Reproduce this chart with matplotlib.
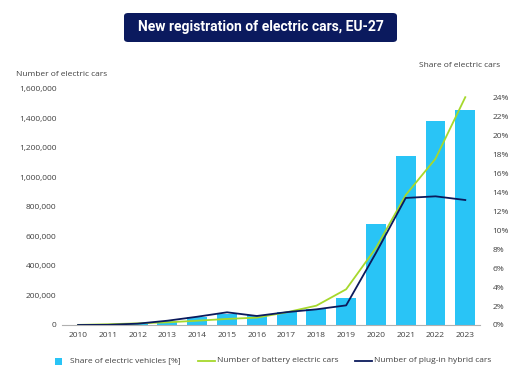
import matplotlib
matplotlib.use("Agg")
import matplotlib.pyplot as plt
from matplotlib.lines import Line2D
from matplotlib.patches import FancyBboxPatch, Rectangle
from matplotlib.ticker import FuncFormatter

plt.rcParams['font.family'] = ['Open Sans', 'DejaVu Sans']

years = list(range(2010, 2024))
share_ev = [0.0, 0.1, 0.2, 0.45, 0.85, 1.2, 1.05, 1.4, 1.7, 2.9, 10.7, 17.9, 21.6, 22.7]
bev = [700, 5000, 11000, 18000, 29000, 41000, 50000, 86000, 131000, 242000, 522000, 881000, 1127000, 1544000]
phev = [0, 1000, 9000, 29000, 56000, 86000, 61000, 87000, 106000, 133000, 488000, 861000, 872000, 847000]

c_bar = '#29c4f6'
c_bev = '#a6d82c'
c_phev = '#0b1a5c'
c_txt = '#404040'
W, H = 530, 390

fig = plt.figure(figsize=(5.3, 3.9), dpi=100)
ax = fig.add_axes([0.117, 0.1667, 0.789, 0.6053])
ax2 = ax.twinx()

# bars on the share axis, lines on the count axis
ax2.bar(years, share_ev, width=0.67, color=c_bar, zorder=1)
ax.plot(years, bev, color=c_bev, lw=1.3, zorder=3)
ax.plot(years, phev, color=c_phev, lw=1.3, zorder=3)
ax.set_zorder(ax2.get_zorder() + 1)
ax.patch.set_visible(False)

ax.set_xlim(2009.46, 2023.5)
ax.set_ylim(0, 1600000)
ax.set_yticks(range(0, 1600001, 200000))
ax.yaxis.set_major_formatter(FuncFormatter(lambda v, p: f"{int(v):,}"))
ax2.set_ylim(0, 24.95)
ax2.set_yticks(range(0, 25, 2))
ax2.yaxis.set_major_formatter(FuncFormatter(lambda v, p: f"{int(v)}%"))
ax.set_xticks(years)

for a in (ax, ax2):
    for s in a.spines.values():
        s.set_visible(False)
    a.tick_params(length=0, labelsize=6, labelcolor=c_txt)
ax.spines['bottom'].set_visible(True)
ax.spines['bottom'].set_color('#b0b0b0')
ax.spines['bottom'].set_linewidth(0.8)
ax.tick_params(axis='x', pad=5)
ax.tick_params(axis='y', pad=4)
ax2.tick_params(axis='y', pad=9)

fig.text(16 / W, 1 - 76 / H, 'Number of electric cars', fontsize=6, color=c_txt)
fig.text(500 / W, 1 - 67 / H, 'Share of electric cars', fontsize=6, color=c_txt, ha='right')

# title box
fig.add_artist(FancyBboxPatch((124 / W, 1 - 42 / H), 273 / W, 29 / H,
                              boxstyle='round,pad=0,rounding_size=0.008',
                              transform=fig.transFigure, fc='#0b1a5e', ec='none'))
fig.text(260.5 / W, 1 - 27.5 / H, 'New registration of electric cars, EU-27',
         fontsize=10, fontweight='bold', family=['Roboto', 'DejaVu Sans'],
         color='white', ha='center', va='center')

# legend
ly = 1 - 361 / H
fig.add_artist(Rectangle((55 / W, 1 - 364.5 / H), 7 / W, 7 / H,
                         transform=fig.transFigure, fc=c_bar, ec='none'))
fig.text(70 / W, ly, 'Share of electric vehicles [%]', fontsize=6, color=c_txt, va='center')
fig.add_artist(Line2D([198 / W, 215 / W], [ly, ly], transform=fig.transFigure,
                      color=c_bev, lw=1.3))
fig.text(217 / W, ly, 'Number of battery electric cars', fontsize=6, color=c_txt, va='center')
fig.add_artist(Line2D([355 / W, 372 / W], [ly, ly], transform=fig.transFigure,
                      color=c_phev, lw=1.3))
fig.text(374 / W, ly, 'Number of plug-in hybrid cars', fontsize=6, color=c_txt, va='center')

fig.savefig('out.png', dpi=100)
